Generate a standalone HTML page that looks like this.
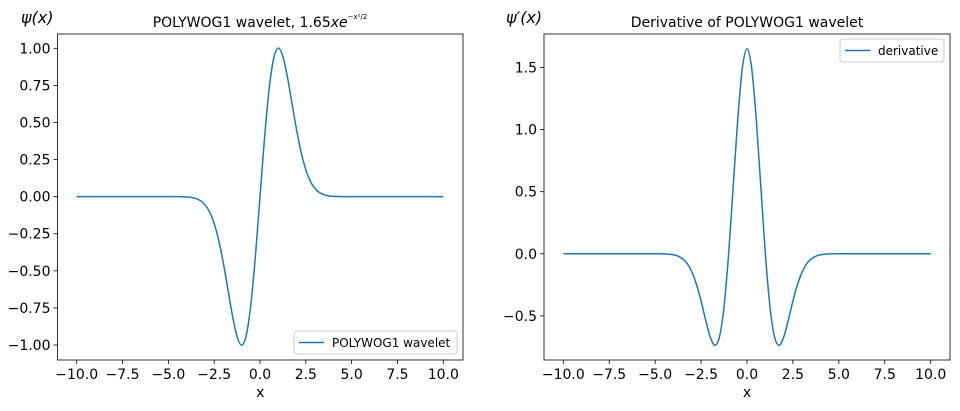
<!DOCTYPE html>
<html><head><meta charset="utf-8"><style>
body{margin:0;background:#fff;}
svg text{font-family:"DejaVu Sans","Liberation Sans",sans-serif;fill:#000;}
</style></head><body>
<svg id="c" width="960" height="406" xmlns="http://www.w3.org/2000/svg"></svg>
<script>
const xs = [-10,-8,-6,-5,-4.5,-4,-3.75,-3.5,-3.25,-3,-2.75,-2.5,-2.25,-2,-1.75,-1.5,-1.25,-1,-0.75,-0.5,-0.25,0,0.25,0.5,0.75,1,1.25,1.5,1.75,2,2.25,2.5,2.75,3,3.25,3.5,3.75,4,4.5,5,6,8,10];
const psiVals = [0,0,0,0,0,-0.002,-0.005,-0.013,-0.027,-0.055,-0.103,-0.181,-0.296,-0.447,-0.625,-0.804,-0.944,-1.001,-0.934,-0.728,-0.400,0,0.400,0.728,0.934,1.001,0.944,0.804,0.625,0.447,0.296,0.181,0.103,0.055,0.027,0.013,0.005,0.002,0,0,0,0,0];
const derivVals = [0,0,0,0,-0.001,-0.008,-0.019,-0.041,-0.080,-0.147,-0.247,-0.380,-0.534,-0.670,-0.736,-0.670,-0.425,0,0.545,1.092,1.499,1.65,1.499,1.092,0.545,0,-0.425,-0.670,-0.736,-0.670,-0.534,-0.380,-0.247,-0.147,-0.080,-0.041,-0.019,-0.008,-0.001,0,0,0,0];
const xTicks = [-10,-7.5,-5,-2.5,0,2.5,5,7.5,10];
const xTickLabels = ["\u221210.0","\u22127.5","\u22125.0","\u22122.5","0.0","2.5","5.0","7.5","10.0"];
const yTicksL = [-1,-0.75,-0.5,-0.25,0,0.25,0.5,0.75,1];
const yTickLabelsL = ["\u22121.00","\u22120.75","\u22120.50","\u22120.25","0.00","0.25","0.50","0.75","1.00"];
const yTicksR = [-0.5,0,0.5,1,1.5];
const yTickLabelsR = ["\u22120.5","0.0","0.5","1.0","1.5"];

const svg = document.getElementById('c');
const NS = 'http://www.w3.org/2000/svg';
function mk(tag, attrs, parent, text){
  const e = document.createElementNS(NS, tag);
  for (const k in attrs) e.setAttribute(k, attrs[k]);
  if (text !== undefined) e.textContent = text;
  (parent || svg).appendChild(e);
  return e;
}
function smoothPath(pts){
  let d = 'M' + pts[0][0].toFixed(2) + ',' + pts[0][1].toFixed(2);
  for (let i = 0; i < pts.length - 1; i++){
    const p0 = pts[Math.max(0,i-1)], p1 = pts[i], p2 = pts[i+1], p3 = pts[Math.min(pts.length-1,i+2)];
    const c1x = p1[0] + (p2[0]-p0[0])/6, c1y = p1[1] + (p2[1]-p0[1])/6;
    const c2x = p2[0] - (p3[0]-p1[0])/6, c2y = p2[1] - (p3[1]-p1[1])/6;
    d += 'C' + c1x.toFixed(2) + ',' + c1y.toFixed(2) + ' ' + c2x.toFixed(2) + ',' + c2y.toFixed(2) + ' ' + p2[0].toFixed(2) + ',' + p2[1].toFixed(2);
  }
  return d;
}
function panel(cfg){
  const g = mk('g', {});
  
  
  const sx = v => cfg.x0 + (v - (-10)) * (cfg.x1 - cfg.x0) / 20;
  const sy = v => cfg.y0 + (v - cfg.v0) * (cfg.y1 - cfg.y0) / (cfg.v1 - cfg.v0);
  // ticks
  xTicks.forEach((t,i) => {
    const x = sx(t);
    const tk = mk('line', {x1:x, x2:x, y1:cfg.bottom, y2:cfg.bottom+4, stroke:'#000', 'stroke-width':0.8}, g);
    
    
    const lb = mk('text', {x:x, y:cfg.bottom+19, 'text-anchor':'middle', 'font-size':14}, g, xTickLabels[i]);
    
    
  });
  cfg.yTicks.forEach((t,i) => {
    const y = sy(t);
    const tk = mk('line', {x1:cfg.left-4, x2:cfg.left, y1:y, y2:y, stroke:'#000', 'stroke-width':0.8}, g);
    
    
    const lb = mk('text', {x:cfg.left-7, y:y+5, 'text-anchor':'end', 'font-size':14}, g, cfg.yLabels[i]);
    
    
  });
  const pts = xs.map((x,i) => [sx(x), sy(cfg.vals[i])]);
  const ln = mk('path', {d:smoothPath(pts), fill:'none', stroke:'#1f77b4', 'stroke-width':1.5}, g);
  
  
  const fr = mk('rect', {x:cfg.left, y:cfg.top, width:cfg.right-cfg.left, height:cfg.bottom-cfg.top, fill:'none', stroke:'#000', 'stroke-width':0.8}, g);
  
  
  const xl = mk('text', {x:(cfg.left+cfg.right)/2, y:cfg.bottom+37, 'text-anchor':'middle', 'font-size':14}, g, 'x');
  
  
  // legend
  const lg = mk('g', {}, g);
  
  
  mk('rect', {x:cfg.lx, y:cfg.ly, width:cfg.lw, height:23, rx:3, fill:'#fff', 'fill-opacity':0.8, stroke:'#ccc', 'stroke-width':1}, lg);
  mk('line', {x1:cfg.lx+5, x2:cfg.lx+30, y1:cfg.ly+11.5, y2:cfg.ly+11.5, stroke:'#1f77b4', 'stroke-width':1.5}, lg);
  const lt = mk('text', {x:cfg.lx+38, y:cfg.ly+16, 'font-size':12}, lg, cfg.legend);
  
  
}
panel({name:'wavelet-panel', left:57.5, right:463, top:34, bottom:360, x0:76.7, x1:443.3, v0:1, v1:-1, y0:48.3, y1:345,
  yTicks:yTicksL, yLabels:yTickLabelsL, vals:psiVals, seriesName:'wavelet-line',
  lx:294, ly:331, lw:163, legend:'POLYWOG1 wavelet'});
panel({name:'derivative-panel', left:544, right:950, top:34, bottom:360, x0:563.3, x1:930.7, v0:1.5, v1:-0.5, y0:67.5, y1:315.9,
  yTicks:yTicksR, yLabels:yTickLabelsR, vals:derivVals, seriesName:'derivative-line',
  lx:840, ly:39, lw:104, legend:'derivative'});

// titles and y labels
let t = mk('text', {x:260, y:27, 'text-anchor':'middle', 'font-size':14}, svg);


mk('tspan', {}, t, 'POLYWOG1 wavelet, 1.65');
mk('tspan', {'font-style':'italic'}, t, 'xe');
mk('tspan', {'font-size':7, dy:-8}, t, '\u2212x\u00b2/2');
t = mk('text', {x:747, y:27, 'text-anchor':'middle', 'font-size':14}, svg, 'Derivative of POLYWOG1 wavelet');


t = mk('text', {x:21, y:23, 'font-size':16, 'font-style':'italic'}, svg, '\u03c8(x)');


t = mk('text', {x:506, y:23, 'font-size':16, 'font-style':'italic'}, svg, '\u03c8\u2032(x)');


</script>
</body></html>
